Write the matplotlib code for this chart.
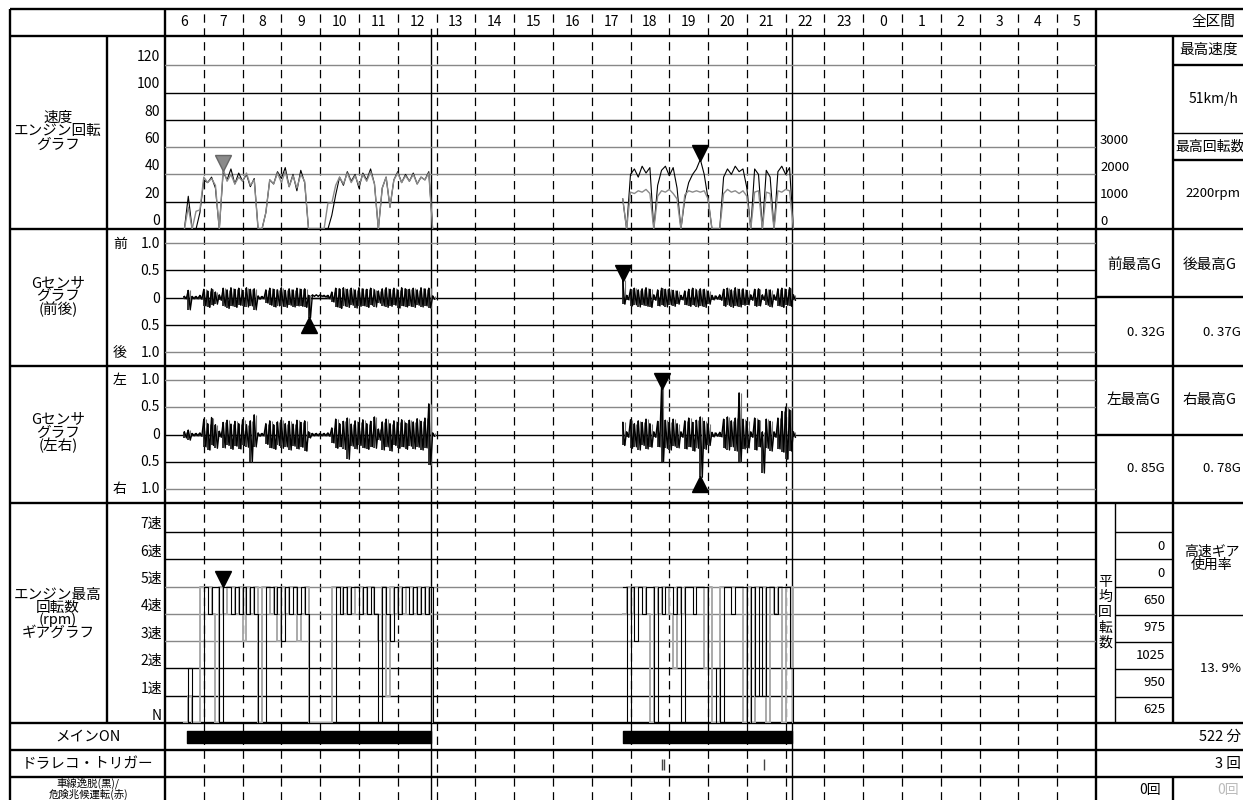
import numpy as np
import matplotlib
matplotlib.use("Agg")
from matplotlib import pyplot as plt
from matplotlib.transforms import offset_copy

plt.rcParams['font.family'] = ['Noto Sans CJK JP', 'DejaVu Sans']
plt.rcParams['lines.scale_dashes'] = False

W, H = 1243, 800

# ---- data -------------------------------------------------------------
hour_labels = [str(h % 24) for h in range(6, 30)]

step = 0.1                      # sample clock (hours)
trip_starts = [6.5, 17.8]
trip_ends = [12.86, 22.16]
main_on = [(6.57, 12.86), (17.8, 22.16)]
trigger_times = [18.80, 18.86, 21.45]

speed1 = [0, 24, 0, 0, 12, 36, 34, 38, 30, 0, 42, 36, 44, 33, 41, 35, 40, 31, 37, 0,
          0, 12, 36, 33, 42, 37, 45, 31, 40, 28, 43, 34, 0, 0, 0, 0, 0, 0, 10, 25,
          38, 32, 42, 35, 40, 30, 41, 36, 44, 33, 0, 30, 38, 16, 36, 42, 34, 40, 35, 41,
          33, 38, 36, 42, 0]
rpm1 = [0, 800, 0, 650, 700, 1900, 1700, 1850, 1600, 0, 2200, 1750, 2000, 1650, 1900, 1750, 2050, 1600, 1800, 0,
        0, 600, 1800, 1650, 2050, 1700, 2100, 1550, 1950, 1500, 2000, 1750, 0, 0, 0, 0, 0, 950, 950, 1600,
        1900, 1650, 2050, 1700, 1950, 1600, 2000, 1750, 2100, 1650, 0, 1500, 1900, 800, 1800, 2050, 1700, 1950, 1750, 2000,
        1650, 1900, 1800, 2050, 0]
speed2 = [22, 0, 40, 44, 38, 46, 41, 45, 0, 32, 43, 46, 39, 45, 30, 0, 22, 34, 40, 44,
          51, 40, 22, 0, 0, 0, 38, 44, 40, 46, 42, 44, 30, 0, 44, 40, 0, 43, 38, 0,
          42, 46, 40, 45, 0]
rpm2 = [1100, 0, 1350, 1300, 1400, 1350, 1450, 1300, 0, 1200, 1400, 1350, 1450, 1300, 1100, 0, 1250, 1400, 1350, 1400,
        1350, 1400, 1100, 0, 0, 0, 1300, 1450, 1350, 1400, 1300, 1400, 1200, 0, 1350, 1400, 0, 1350, 1300, 0,
        1400, 1350, 1450, 1400, 0]

fb_hi1 = [0.02, 0.13, 0.02, 0.02, 0.04, 0.15, 0.12, 0.16, 0.10, 0.05, 0.17, 0.14, 0.18, 0.15, 0.17, 0.13, 0.18, 0.15, 0.16, 0.03,
          0.02, 0.14, 0.17, 0.15, 0.14, 0.18, 0.13, 0.16, 0.14, 0.17, 0.15, 0.16, 0.04, 0.05, 0.05, 0.05, 0.04, 0.04, 0.10, 0.17,
          0.16, 0.18, 0.15, 0.17, 0.14, 0.18, 0.16, 0.15, 0.17, 0.14, 0.12, 0.16, 0.18, 0.15, 0.17, 0.14, 0.18, 0.16, 0.15, 0.17,
          0.14, 0.18, 0.16, 0.17, 0.03]
fb_lo1 = [-0.02, -0.22, -0.02, -0.02, -0.03, -0.15, -0.18, -0.14, -0.12, -0.05, -0.16, -0.20, -0.15, -0.18, -0.14, -0.16, -0.17, -0.15, -0.22, -0.03,
          -0.02, -0.10, -0.14, -0.17, -0.15, -0.16, -0.18, -0.14, -0.17, -0.15, -0.16, -0.18, -0.37, 0.02, 0.02, 0.02, 0.01, -0.02, -0.08, -0.17,
          -0.20, -0.15, -0.18, -0.14, -0.19, -0.16, -0.15, -0.18, -0.14, -0.17, -0.10, -0.15, -0.18, -0.16, -0.14, -0.19, -0.15, -0.17, -0.16, -0.18,
          -0.14, -0.17, -0.15, -0.19, -0.03]
fb_hi2 = [0.32, 0.04, 0.15, 0.17, 0.14, 0.16, 0.18, 0.15, 0.05, 0.14, 0.17, 0.15, 0.16, 0.13, 0.12, 0.04, 0.12, 0.15, 0.17, 0.14,
          0.16, 0.15, 0.12, 0.04, 0.03, 0.05, 0.15, 0.17, 0.14, 0.18, 0.15, 0.16, 0.13, 0.05, 0.15, 0.16, 0.05, 0.15, 0.14, 0.05,
          0.16, 0.17, 0.15, 0.18, 0.05]
fb_lo2 = [-0.12, -0.04, -0.15, -0.13, -0.17, -0.14, -0.16, -0.18, -0.05, -0.15, -0.14, -0.17, -0.13, -0.16, -0.12, -0.04, -0.13, -0.16, -0.14, -0.17,
          -0.15, -0.18, -0.12, -0.04, -0.03, -0.05, -0.16, -0.14, -0.18, -0.15, -0.17, -0.14, -0.13, -0.05, -0.16, -0.15, -0.05, -0.14, -0.17, -0.05,
          -0.15, -0.18, -0.14, -0.16, -0.05]

lr_hi1 = [0.05, 0.08, 0.02, 0.02, 0.03, 0.28, 0.20, 0.31, 0.18, 0.06, 0.22, 0.26, 0.19, 0.24, 0.20, 0.27, 0.18, 0.25, 0.36, 0.03,
          0.02, 0.20, 0.25, 0.18, 0.23, 0.27, 0.20, 0.24, 0.19, 0.26, 0.22, 0.25, 0.05, 0.02, 0.02, 0.02, 0.02, 0.03, 0.12, 0.28,
          0.20, 0.24, 0.30, 0.19, 0.25, 0.22, 0.27, 0.20, 0.24, 0.32, 0.10, 0.23, 0.28, 0.20, 0.25, 0.22, 0.27, 0.21, 0.26, 0.23,
          0.29, 0.24, 0.30, 0.56, 0.03]
lr_lo1 = [-0.06, -0.10, -0.02, -0.02, -0.03, -0.22, -0.28, -0.20, -0.25, -0.05, -0.24, -0.20, -0.27, -0.21, -0.26, -0.20, -0.23, -0.50, -0.22, -0.03,
          -0.02, -0.18, -0.24, -0.27, -0.20, -0.25, -0.22, -0.28, -0.21, -0.26, -0.23, -0.30, -0.06, -0.02, -0.02, -0.02, -0.02, -0.03, -0.15, -0.25,
          -0.22, -0.27, -0.45, -0.21, -0.26, -0.20, -0.24, -0.27, -0.22, -0.25, -0.10, -0.28, -0.22, -0.30, -0.20, -0.25, -0.22, -0.27, -0.21, -0.26,
          -0.23, -0.28, -0.24, -0.55, -0.03]
lr_hi2 = [0.22, 0.05, 0.27, 0.20, 0.25, 0.22, 0.28, 0.20, 0.05, 0.24, 0.85, 0.26, 0.22, 0.28, 0.20, 0.05, 0.25, 0.30, 0.22, 0.26,
          0.32, 0.24, 0.20, 0.04, 0.03, 0.04, 0.28, 0.32, 0.25, 0.30, 0.76, 0.28, 0.24, 0.05, 0.30, 0.26, 0.05, 0.28, 0.24, 0.05,
          0.30, 0.42, 0.50, 0.45, 0.05]
lr_lo2 = [-0.20, -0.05, -0.25, -0.22, -0.28, -0.20, -0.26, -0.23, -0.05, -0.22, -0.50, -0.25, -0.28, -0.21, -0.24, -0.05, -0.26, -0.22, -0.30, -0.25,
          -0.78, -0.27, -0.20, -0.04, -0.03, -0.04, -0.25, -0.28, -0.22, -0.30, -0.50, -0.26, -0.24, -0.05, -0.28, -0.22, -0.70, -0.25, -0.30, -0.05,
          -0.26, -0.32, -0.45, -0.30, -0.05]

gear_k1 = [0, 2, 0, 0, 0, 5, 4, 5, 5, 0, 5, 5, 4, 5, 4, 5, 4, 5, 4, 0,
           0, 5, 5, 4, 5, 3, 5, 4, 5, 4, 5, 4, 0, 0, 0, 0, 0, 0, 0, 5,
           4, 5, 4, 5, 5, 4, 5, 4, 5, 4, 0, 5, 4, 3, 5, 4, 5, 5, 4, 5,
           4, 5, 4, 5, 0]
gear_g1 = [0, 1, 0, 0, 5, 5, 5, 4, 0, 5, 4, 5, 5, 4, 5, 3, 5, 4, 5, 0,
           5, 5, 4, 5, 3, 5, 4, 5, 5, 3, 4, 5, 0, 0, 0, 0, 0, 0, 5, 5,
           5, 4, 5, 4, 5, 5, 4, 5, 5, 4, 3, 5, 1, 5, 4, 5, 4, 5, 5, 4,
           5, 4, 5, 4, 0]
gear_k2 = [5, 0, 5, 3, 5, 4, 5, 5, 0, 5, 4, 5, 5, 4, 5, 0, 5, 5, 4, 5,
           5, 5, 0, 0, 2, 0, 5, 5, 4, 5, 5, 5, 0, 5, 1, 5, 1, 5, 5, 4,
           5, 5, 5, 2, 0]
gear_g2 = [4, 5, 4, 5, 5, 5, 4, 0, 5, 4, 5, 5, 4, 2, 5, 4, 5, 5, 5, 5,
           5, 2, 5, 0, 0, 5, 5, 5, 5, 5, 5, 0, 5, 0, 5, 5, 5, 0, 5, 4,
           5, 0, 5, 5, 0]
gear_peak_t = 7.5

# right-hand summary
max_speed = "51km/h"
max_rpm = "2200rpm"
g_titles = ["前最高G", "後最高G", "左最高G", "右最高G"]
g_values = ["0. 32G", "0. 37G", "0. 85G", "0. 78G"]
avg_rpm = ["0", "0", "650", "975", "1025", "950", "625"]
high_gear_rate = "13. 9%"
main_on_total = "522 分"
trigger_total = "3 回"

speed_ticks = [120, 100, 80, 60, 40, 20, 0]
rpm_ticks = ["3000", "2000", "1000", "0"]
gear_ticks = ["7速", "6速", "5速", "4速", "3速", "2速", "1速", "N"]

# ---- layout helpers --------------------------------------------------
fig = plt.figure(figsize=(W / 100, H / 100), dpi=100)

tab = fig.add_axes([0, 0, 1, 1])
tab.set_xlim(0, W)
tab.set_ylim(H, 0)
tab.axis('off')


def px_axes(x0, y0, x1, y1):
    ax = fig.add_axes([x0 / W, 1 - y1 / H, (x1 - x0) / W, (y1 - y0) / H])
    ax.set_xlim(6, 30)
    ax.axis('off')
    ax.patch.set_alpha(0)
    return ax


def hline(y, x0, x1, lw=1.0, c='k'):
    tab.plot([x0, x1], [y, y], color=c, lw=lw, solid_capstyle='butt')


def vline(x, y0, y1, lw=1.0, c='k'):
    tab.plot([x, x], [y0, y1], color=c, lw=lw, solid_capstyle='butt')


def txt(x, y, s, size=9.5, ha='center', **kw):
    tab.text(x, y, s, fontsize=size, ha=ha, va='center', **kw)


XL, XM, XP, XR, XG, XC = 10, 107, 165, 1096, 1115, 1173
rows = [9, 36, 229, 366, 503, 723, 750, 777]

# vertical hour grid
vg = px_axes(XP, 9, XR, H)
vg.set_ylim(0, 1)
for h in range(7, 30):
    vg.axvline(h, color='k', lw=0.9, ls=(0, (6, 4)))
for t in trip_ends:
    vg.axvline(t, 0, 0.975, color='k', lw=1.0)

# ---- speed / rpm -----------------------------------------------------
ax = px_axes(XP, rows[1], XR, rows[2])
ax.set_ylim(0, 141.4)
for v, c in zip([120, 100, 80, 60, 40, 20], ['#888', 'k', 'k', '#888', '#888', 'k']):
    ax.axhline(v, color=c, lw=1.0)
axr = ax.twinx()
axr.axis('off')
axr.set_ylim(0, 141.4 * 50)
for t0, spd, rpm in [(trip_starts[0], speed1, rpm1), (trip_starts[1], speed2, rpm2)]:
    t = t0 + step * np.arange(len(spd))
    axr.plot(t, rpm, color='#8a8a8a', lw=1.0)
    ax.plot(t, spd, color='k', lw=0.8)
t2 = trip_starts[1] + step * np.arange(len(speed2))
t1 = trip_starts[0] + step * np.arange(len(rpm1))
i = int(np.argmax(speed2))
ax.plot(t2[i], speed2[i], marker='v', ms=11, color='k',
        transform=offset_copy(ax.transData, fig, y=6, units='dots'))
i = int(np.argmax(rpm1))
axr.plot(t1[i], rpm1[i], marker='v', ms=11, color='#8a8a8a', mec='#666',
         transform=offset_copy(axr.transData, fig, y=6, units='dots'))

# ---- G sensors -------------------------------------------------------
def g_panel(y0, y1, lim, hi_lo, colors):
    a = px_axes(XP, y0, XR, y1)
    a.set_ylim(-lim, lim)
    for v, c in zip([1.0, 0.5, 0.0, -0.5, -1.0], colors):
        a.axhline(v, color=c, lw=1.0)
    for t0, hi, lo in hi_lo:
        t = t0 + step * np.arange(len(hi))
        a.plot(t, np.zeros(len(t)), color='k', lw=1.0)
        a.vlines(t, lo, hi, color='#222', lw=1.3)
        a.vlines(t + step / 2, lo, hi, color='#777', lw=0.8)
        zx = np.column_stack([t, t + step / 2]).ravel()
        zy = np.column_stack([hi, lo]).ravel()
        a.plot(zx, zy, color='k', lw=1.0)
    return a


afb = g_panel(rows[2], rows[3], 1.255,
              [(trip_starts[0], fb_hi1, fb_lo1), (trip_starts[1], fb_hi2, fb_lo2)],
              ['#888', 'k', 'k', 'k', '#888'])
i = int(np.argmax(fb_hi2))
afb.plot(trip_starts[1] + step * i, fb_hi2[i], marker='v', ms=11, color='k',
         transform=offset_copy(afb.transData, fig, y=7, units='dots'))
i = int(np.argmin(fb_lo1))
afb.plot(trip_starts[0] + step * i, fb_lo1[i], marker='^', ms=11, color='k',
         transform=offset_copy(afb.transData, fig, y=-7, units='dots'))

alr = g_panel(rows[3], rows[4], 1.25,
              [(trip_starts[0], lr_hi1, lr_lo1), (trip_starts[1], lr_hi2, lr_lo2)],
              ['#888', '#888', 'k', 'k', '#888'])
i = int(np.argmax(lr_hi2))
alr.plot(trip_starts[1] + step * i, lr_hi2[i], marker='v', ms=11, color='k',
         transform=offset_copy(alr.transData, fig, y=7, units='dots'))
i = int(np.argmin(lr_lo2))
alr.plot(trip_starts[1] + step * i, lr_lo2[i], marker='^', ms=11, color='k',
         transform=offset_copy(alr.transData, fig, y=-7, units='dots'))

# ---- gear ------------------------------------------------------------
agr = px_axes(XP, rows[4], XR, rows[5])
agr.set_ylim(0, 8.06)
for v, c in zip(range(1, 8), ['k', 'k', '#888', '#888', '#888', 'k', 'k']):
    agr.axhline(v, color=c, lw=1.0)
for t0, gk, gg in [(trip_starts[0], gear_k1, gear_g1), (trip_starts[1], gear_k2, gear_g2)]:
    t = t0 + step * np.arange(len(gk))
    agr.plot(t, gg, drawstyle='steps-post', color='#aaa', lw=1.4)
    agr.plot(t, gk, drawstyle='steps-post', color='k', lw=0.8)
agr.plot(gear_peak_t, 5, marker='v', ms=11, color='k',
         transform=offset_copy(agr.transData, fig, y=8, units='dots'))

# ---- main ON / trigger -----------------------------------------------
amn = px_axes(XP, rows[5], XR, rows[6])
amn.set_ylim(0, 1)
amn.broken_barh([(a, b - a) for a, b in main_on], (0.26, 0.45), color='k')

atr = px_axes(XP, rows[6], XR, rows[7])
atr.set_ylim(0, 1)
atr.vlines(trigger_times, 0.25, 0.65, color='#444', lw=1.0)

# ---- table frame -----------------------------------------------------
TH = 1.7
for y in rows:
    hline(y, XL, W, TH)
vline(XL, 9, H, TH)
vline(XP, 9, H, TH)
vline(XR, 9, H, TH)
vline(XM, rows[1], rows[5], TH)
vline(XC, rows[1], rows[5], TH)
vline(XC, rows[7], H, TH)
hline(65, XC, W, TH)
hline(133, XC, W, 1.0)
hline(160, XC, W, TH)
hline(297, XR, W, TH)
hline(435, XR, W, TH)
vline(XG, rows[4], rows[5], 1.0)
for y in [532, 559, 587, 615, 642, 669, 697]:
    hline(y, XG, XC, 1.0)
hline(615, XC, W, 1.0)

# ---- text ------------------------------------------------------------
for k, lab in enumerate(hour_labels):
    txt(XP + (XR - XP) / 24 * (k + 0.5), 22, lab, 10)
txt(1213, 22, "全区間", 10.5)

txt(58, 131, "速度\nエンジン回転\nグラフ", 10.5, linespacing=0.95)
txt(58, 297, "Gセンサ\nグラフ\n(前後)", 10.5, linespacing=0.9)
txt(58, 433, "Gセンサ\nグラフ\n(左右)", 10.5, linespacing=0.9)
txt(58, 614, "エンジン最高\n回転数\n(rpm)\nギアグラフ", 10.5, linespacing=0.85)
txt(88, 737, "メインON", 10.5)
txt(88, 764, "ドラレコ・トリガー", 10.5)
txt(88, 789, "車線逸脱(黒)/\n危険兆候運転(赤)", 7.5, linespacing=0.95)

for k, v in enumerate(speed_ticks):
    txt(160, 57 + 27.3 * k, str(v), 10, ha='right')
for k, v in enumerate(rpm_ticks):
    txt(1100, 140 + 27.3 * k, v, 9.5, ha='left')

g_tick = ["1.0", "0.5", "0", "0.5", "1.0"]
for base, side in [(244, ("前", "後")), (380, ("左", "右"))]:
    for k, v in enumerate(g_tick):
        txt(160, base + 27.3 * k, v, 10, ha='right')
    txt(120, base, side[0], 10)
    txt(120, base + 27.3 * 4, side[1], 10)

for k, v in enumerate(gear_ticks):
    txt(162, 524 + 27.4 * k, v, 10, ha='right')

txt(1209, 50, "最高速度", 10.5)
txt(1214, 99, max_speed, 10)
txt(1175, 147, "最高回転数", 10, ha='left')
txt(1213, 194, max_rpm, 9.5)

for k, (x, y) in enumerate([(1134, 265), (1210, 265), (1134, 400), (1210, 400)]):
    txt(x, y, g_titles[k], 10.5)
for k, (x, y) in enumerate([(1165, 332), (1241, 332), (1165, 469), (1241, 469)]):
    txt(x, y, g_values[k], 9.5, ha='right')

for k, v in enumerate(avg_rpm):
    txt(1165, 546 + 27.3 * k, v, 9.5, ha='right')
for k, ch in enumerate("平均回転数"):
    txt(1105, 582 + 15.2 * k, ch, 10)
txt(1212, 558, "高速ギア\n使用率", 10, linespacing=0.9)
txt(1241, 669, high_gear_rate, 9.5, ha='right')
txt(1241, 737, main_on_total, 10.5, ha='right')
txt(1241, 764, trigger_total, 10.5, ha='right')
txt(1150, 790, "0回", 10)
txt(1228, 790, "0回", 10, color='#bbb')

fig.savefig("out.png", dpi=100)
